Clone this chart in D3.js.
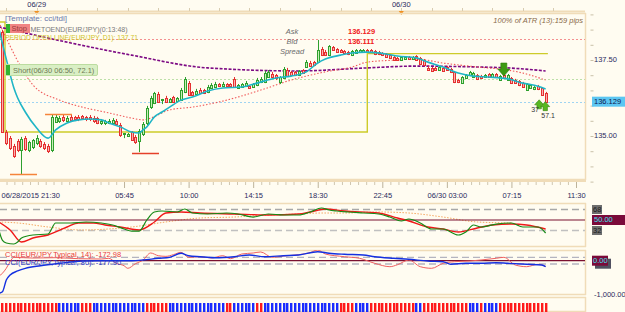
<!DOCTYPE html>
<html><head><meta charset="utf-8">
<script src="https://cdn.jsdelivr.net/npm/d3@7/dist/d3.min.js"></script>
<style>
html,body{margin:0;padding:0;background:#fffcf1;}
svg{display:block;font-family:"Liberation Sans",Arial,sans-serif;}
</style></head><body>
<svg id="chart" width="625" height="312"></svg>
<script>
// ---------------- DATA ----------------
// 15-minute EUR/JPY candles [open, high, low, close], first candle 06/28 21:45
const candleStart = "2015-06-28T21:45";
const candles = [
[138.42,138.49,135.10,135.13],[135.13,135.20,134.70,134.77],[134.93,135.00,134.54,134.61],[134.67,134.74,134.28,134.34],
[134.84,134.90,134.47,134.54],[134.54,134.97,133.75,134.90],[134.93,135.00,134.51,134.57],[134.54,134.84,134.47,134.80],
[134.64,134.90,134.57,134.87],[134.77,135.03,134.70,134.93],[134.84,134.90,134.61,134.67],[134.74,134.80,134.54,134.61],
[134.67,134.74,134.44,134.51],[134.54,135.72,134.47,135.63],[135.46,135.72,135.43,135.63],[135.49,135.66,135.43,135.59],
[135.63,135.69,135.46,135.53],[135.49,135.66,135.43,135.59],[135.63,135.69,135.46,135.53],[135.63,135.66,135.49,135.56],
[135.63,135.69,135.49,135.56],[135.66,135.69,135.53,135.59],[135.63,135.66,135.49,135.56],[135.63,135.69,135.49,135.56],
[135.59,135.66,135.43,135.49],[135.59,135.63,135.39,135.43],[135.43,135.56,135.36,135.49],[135.43,135.53,135.36,135.49],
[135.43,135.56,135.39,135.49],[135.43,135.59,135.39,135.53],[135.49,135.56,135.33,135.39],[135.36,135.43,134.97,135.03],
[135.07,135.10,134.93,135.10],[135.00,135.10,134.97,135.07],[135.13,135.16,134.84,134.87],[134.97,135.03,134.74,134.80],
[134.84,135.23,134.47,135.16],[135.07,135.46,135.00,135.39],[135.43,135.99,135.36,135.92],[135.95,136.32,135.89,136.25],
[136.09,136.45,136.05,136.41],[136.38,136.45,136.09,136.12],[136.18,136.22,136.05,136.22],[136.25,136.32,136.09,136.12],
[136.12,136.25,136.09,136.22],[136.28,136.32,136.09,136.12],[136.15,136.28,136.12,136.25],[136.18,136.58,136.15,136.51],
[136.45,136.94,136.41,136.88],[136.74,136.81,136.32,136.35],[136.45,136.48,136.32,136.35],[136.38,136.55,136.35,136.48],
[136.51,136.58,136.38,136.41],[136.51,136.55,136.38,136.41],[136.45,136.68,136.41,136.61],[136.58,136.74,136.55,136.68],
[136.61,136.78,136.58,136.71],[136.71,136.74,136.61,136.64],[136.64,136.78,136.61,136.71],[136.71,136.74,136.61,136.64],
[136.71,136.74,136.61,136.64],[136.88,136.94,136.58,136.61],[136.58,136.71,136.55,136.68],[136.61,136.74,136.58,136.71],
[136.64,136.81,136.61,136.74],[136.64,136.68,136.55,136.58],[136.61,136.74,136.58,136.71],[136.68,136.91,136.64,136.84],
[136.78,136.94,136.74,136.88],[136.78,137.14,136.74,137.07],[136.94,137.17,136.91,137.11],[137.04,137.11,136.91,136.94],
[137.01,137.04,136.84,136.91],[136.78,136.97,136.71,136.94],[136.91,137.27,136.88,137.20],[137.17,137.24,136.94,136.97],
[137.11,137.14,136.97,137.01],[137.11,137.14,136.97,137.01],[137.01,137.17,136.97,137.14],[137.17,137.20,137.04,137.07],
[137.27,137.50,137.24,137.43],[137.40,137.47,137.27,137.30],[137.43,137.47,137.30,137.34],[137.43,138.16,137.40,137.83],
[137.86,137.93,137.63,137.66],[137.76,137.83,137.63,137.66],[137.66,137.99,137.63,137.96],[137.93,137.96,137.80,137.83],
[137.86,137.89,137.73,137.76],[137.83,137.86,137.73,137.76],[137.80,137.83,137.70,137.73],[137.76,137.80,137.66,137.70],
[137.66,137.83,137.63,137.80],[137.73,137.86,137.70,137.83],[137.76,137.86,137.73,137.83],[137.76,137.86,137.73,137.83],
[137.83,137.86,137.73,137.76],[137.83,137.86,137.73,137.76],[137.80,137.83,137.66,137.70],[137.76,137.80,137.66,137.70],
[137.73,137.76,137.63,137.66],[137.70,137.73,137.57,137.60],[137.66,137.70,137.53,137.57],[137.60,137.63,137.47,137.50],
[137.57,137.60,137.47,137.50],[137.50,137.63,137.47,137.60],[137.53,137.63,137.50,137.60],[137.60,137.63,137.50,137.53],
[137.53,137.63,137.50,137.60],[137.63,137.66,137.47,137.50],[137.57,137.60,137.34,137.37],[137.50,137.53,137.30,137.34],
[137.24,137.30,137.14,137.17],[137.24,137.27,137.11,137.14],[137.24,137.27,137.14,137.17],[137.17,137.30,137.14,137.27],
[137.24,137.27,137.11,137.14],[137.27,137.30,137.14,137.17],[137.20,137.24,137.07,137.11],[137.11,137.14,136.74,136.78],
[136.84,136.88,136.74,136.78],[136.74,136.97,136.71,136.94],[136.91,137.04,136.88,137.01],[137.01,137.14,136.97,137.11],
[136.94,137.11,136.91,137.07],[137.01,137.04,136.84,136.88],[136.97,137.01,136.88,136.91],[136.94,137.04,136.91,137.01],
[137.04,137.07,136.91,136.94],[136.94,137.07,136.91,137.04],[137.04,137.07,136.91,136.94],[136.84,137.01,136.81,136.97],
[137.01,137.04,136.88,136.91],[136.84,137.04,136.81,137.01],[136.91,136.94,136.71,136.74],[136.84,136.88,136.71,136.74],
[136.81,136.84,136.64,136.68],[136.74,136.78,136.58,136.61],[136.51,136.74,136.48,136.71],[136.58,136.71,136.55,136.68],
[136.55,136.64,136.51,136.61],[136.64,136.68,136.51,136.55],[136.58,136.61,136.32,136.35],[136.41,136.45,136.10,136.129]
];
// moving averages: [candle index, price]
const fastMA = [[-1,138.55],[0,138.03],[1,137.53],[3,136.58],[4,136.25],[6,135.79],[9,135.26],[12,134.93],[14,135.20],[17,135.43],[20,135.53],[23,135.56],[26,135.53],[28,135.43],[31,135.30],[34,135.13],[36,135.10],[37,135.20],[38,135.30],[40,135.63],[42,135.79],[44,135.95],[47,136.18],[50,136.28],[54,136.48],[58,136.58],[63,136.61],[67,136.74],[72,136.91],[76,136.97],[80,137.11],[83,137.40],[85,137.53],[89,137.66],[92,137.73],[96,137.76],[101,137.70],[104,137.63],[109,137.57],[112,137.43],[116,137.27],[120,137.07],[124,136.97],[128,136.94],[133,136.88],[137,136.74],[141,136.64],[143,136.55]];
const slowMA = [[-1,138.75],[1,138.22],[2,137.96],[5,137.24],[8,136.68],[15,136.18],[21,135.95],[28,135.76],[34,135.59],[37,135.53],[39,135.59],[44,135.86],[50,135.95],[59,136.18],[68,136.51],[76,136.84],[85,137.11],[92,137.27],[96,137.43],[104,137.50],[109,137.53],[116,137.40],[125,137.27],[133,137.17],[137,137.07],[143,136.84]];
const trendMA = [[-1,138.59],[18,138.06],[34,137.66],[54,137.24],[78,137.14],[96,137.24],[109,137.30],[125,137.27],[133,137.24],[143,137.14]];
// period (D1) open line: [from index, to index, price]
const periodOpen = [[-1,0.66,138.75],[0.66,96.05,135.13],[96.05,143.6,137.71]];
// horizontal levels
const levels = [138.19, 136.88, 136.129];
// fractal lines [from index, to index, price]
const fractals = [[1.97,9.08,133.75],[11.2,18.3,135.72],[34.1,41.2,134.44]];
// signals
const shortSignal = [132, 137.40];
const longSignals = [[141.3,136.19,"37"],[142.9,136.13,"57.1"]];
// price axis
const priceLabels = [137.5, 135.0];
const lastPrice = 136.129, askPrice = "136.129", bidPrice = "136.111";
// time axis
const tickTimes = ["2015-06-28T21:30","2015-06-29T05:45","2015-06-29T10:00","2015-06-29T14:15","2015-06-29T18:30","2015-06-29T22:45","2015-06-30T03:00","2015-06-30T07:15","2015-06-30T11:30"];
const tickLabels = ["06/28/2015 21:30","05:45","10:00","14:15","18:30","22:45","06/30 03:00","07:15","11:30"];
const dayMarks = [["2015-06-29T00:00","06/29"],["2015-06-30T00:00","06/30"]];
// TDI: [candle index, value]
const tdiRsi = [[-1,34],[0,15],[1,10.6],[3,8.9],[4,12.3],[5,19.1],[8,24.3],[12,26],[14,44.9],[18,44.9],[22,46.6],[26,44.9],[29,41.4],[32,34.6],[34,31.1],[36,31.1],[38,50],[40,63.7],[42,65.4],[46,63.7],[48,68.9],[50,62],[54,60.3],[59,62],[62,60.3],[66,55.1],[70,60.3],[74,58.6],[78,58.6],[81,63.7],[84,70.6],[86,67.1],[88,65.4],[91,63.7],[95,62],[99,60.3],[102,55.1],[105,48.3],[107,51.7],[110,44.9],[113,34.6],[116,34.6],[120,24.3],[122,29.4],[124,41.4],[126,38],[130,43],[134,44.9],[137,38],[141,38],[143,27.7]];
const tdiSignal = [[-1,46.6],[2,32.9],[5,12.3],[8,19.1],[12,24.3],[17,38],[20,44.9],[24,44.9],[27,41.4],[31,38],[36,32.9],[40,46.6],[43,62],[47,63.7],[52,62],[61,60.3],[70,58.6],[78,60.3],[81,63.7],[85,68.9],[90,65.4],[99,62],[104,53.4],[107,48.3],[112,38],[116,34.6],[120,29.4],[125,36.3],[129,41.4],[134,43.1],[138,41.4],[143,34.6]];
const tdiBase = [[-1,46.6],[4,44.9],[12,38],[21,32.9],[28,34.6],[34,38],[43,46.6],[52,53.4],[61,55.1],[70,58.6],[78,60.3],[84,62],[90,62],[99,63.7],[107,62],[116,55.1],[125,46.6],[134,44.9]];
const tdiLevels = [68, 50, 32];
// CCI: [candle index, value]
const cci14 = [[-1,-480],[1,-227],[2,-30],[3,100],[8,80],[14,90],[20,60],[26,50],[28,72],[30,-78],[32,-150],[33,-227],[35,-90],[37,20],[39,230],[41,150],[43,130],[45,180],[47,250],[49,100],[52,120],[55,80],[58,150],[60,60],[63,200],[66,230],[68,260],[71,100],[74,140],[78,180],[81,240],[83,320],[85,200],[90,120],[94,72],[98,-78],[102,-179],[104,-120],[107,21],[110,-179],[113,-227],[116,-78],[119,-30],[123,-9],[126,21],[130,72],[132,101],[135,-128],[138,-179],[141,-107],[143,-173]];
const cci80 = [[-1,-973],[0,-925],[1,-576],[2,-427],[4,-307],[6,-227],[10,-149],[15,-78],[21,-9],[26,0],[34,0],[37,21],[41,72],[44,101],[47,221],[49,149],[52,119],[56,90],[61,119],[65,170],[69,119],[74,149],[78,170],[83,269],[86,221],[90,191],[95,170],[98,119],[103,72],[107,42],[112,-9],[116,-30],[118,-107],[122,-78],[126,-78],[130,-60],[133,-78],[138,-107],[142,-128],[143,-178]];
const cciLabels = ["CCI(EUR/JPY,Typical, 14): -172.98", "CCI(EUR/JPY,Typical, 80): -177.90"];
// bottom strip: sign per candle (r = down, b = up)
const stripSigns = ("rrrrrrrrrrrrrrr"+"bbbbbb"+"rrr"+"bbbbbbbbbbbbbb"+"rrrrrr"+"bbbbbbbbbbbbbbb"+"rr"+"bbbbbb"+"rr"+"bbbbbbbbbbbbbbbbbbbb"+"rrrr"+"bbbb"+"rrrrrrrrrrrr"+"bb"+"rrrrrrrrrrrr"+"bbb"+"r"+"bbbb"+"rrrrrrrrrrrrr").split("");

// ---------------- LAYOUT ----------------
const W = 625, H = 312;
const plotR = 585;
const P = {main:[13,180], tdi:[203,247], cci:[250,295], strip:[297,312]};
const C = {bg:"#fffcf1", border:"#f0dcb8", axisText:"#2b2b5e", up:"#2ea02e", upFill:"#c9efb8", dn:"#e53030", dnFill:"#f9b0b0"};

const svg = d3.select("#chart");
svg.append("rect").attr("width",W).attr("height",H).attr("fill",C.bg);

const x = d3.scaleTime().domain([new Date(tickTimes[0]), new Date(tickTimes[tickTimes.length-1])]).range([-1.3, 576]);
const t0 = new Date(candleStart);
const xi = i => x(new Date(+t0 + i*15*60000));
const y = d3.scaleLinear().domain([135, 137.5]).range([136, 60]);
const yT = d3.scaleLinear().domain([32, 68]).range([230.5, 209.5]);
const yC = d3.scaleLinear().domain([-1000, 0]).range([294.2, 260.7]);

const defs = svg.append("defs");
Object.entries(P).forEach(([k,[a,b]])=>{
  defs.append("clipPath").attr("id","clip-"+k).append("rect").attr("x",0).attr("y",a).attr("width",plotR).attr("height",b-a);
});

// ---- top date bar
svg.append("line").attr("x1",0).attr("x2",plotR).attr("y1",11.5).attr("y2",11.5).attr("stroke",C.border).attr("stroke-width",2);
const topTicks = d3.timeHour.every(2).range(new Date(tickTimes[0]), new Date(tickTimes[tickTimes.length-1]));
svg.append("g").selectAll("line").data(topTicks).join("line")
  .attr("x1",d=>Math.round(x(d))+0.5).attr("x2",d=>Math.round(x(d))+0.5).attr("y1",8).attr("y2",11)
  .attr("stroke","#d8ccb0");
dayMarks.forEach(([t,lab])=>{
  const px = x(new Date(t));
  svg.append("text").attr("x",px).attr("y",5).attr("text-anchor","middle").attr("dominant-baseline","middle")
    .attr("font-size",7.5).attr("fill",C.axisText).text(lab);
  svg.append("path").attr("d",`M${px-2.5},11 L${px+2.5},11 L${px},15 Z`).attr("fill","#f09020");
});

// ---- panel borders
Object.values(P).forEach(([a,b])=>{
  svg.append("line").attr("x1",plotR+0.5).attr("x2",plotR+0.5).attr("y1",a).attr("y2",b).attr("stroke",C.border).attr("stroke-width",1.5);
  svg.append("line").attr("x1",0).attr("x2",plotR+1).attr("y1",a+0.5).attr("y2",a+0.5).attr("stroke",C.border).attr("stroke-width",1.5);
  svg.append("line").attr("x1",0).attr("x2",plotR+1).attr("y1",b-0.5).attr("y2",b-0.5).attr("stroke",C.border).attr("stroke-width",1.5);
});

// ---- MAIN PANEL
const main = svg.append("g").attr("clip-path","url(#clip-main)");
const levelStyles = [["#f49090","2,2"],["#bde0a8","2,2"],["#9fd4f2","2,2"]];
levels.forEach((p,k)=>{
  main.append("line").attr("x1",0).attr("x2",plotR).attr("y1",Math.round(y(p))+0.5).attr("y2",Math.round(y(p))+0.5)
    .attr("stroke",levelStyles[k][0]).attr("stroke-dasharray",levelStyles[k][1]).attr("stroke-width",1);
});
// period open step
const poPts = [];
periodOpen.forEach(([a,b,p])=>{ poPts.push([a,p]); poPts.push([b,p]); });
main.append("path").attr("d",d3.line().x(d=>xi(d[0])).y(d=>y(d[1]))(poPts))
  .attr("fill","none").attr("stroke","#cdcb2a").attr("stroke-width",1.4);

const mline = d3.line().x(d=>xi(d[0])).y(d=>y(d[1])).curve(d3.curveMonotoneX);
main.append("path").attr("d",mline(trendMA)).attr("fill","none").attr("stroke","#7d0a84").attr("stroke-width",1.6).attr("stroke-dasharray","3,1.5");
main.append("path").attr("d",mline(slowMA)).attr("fill","none").attr("stroke","#f05a5a").attr("stroke-width",1.1).attr("stroke-dasharray","1.5,1.8");

// candles
const cg = main.append("g");
const cs = cg.selectAll("g").data(candles).join("g");
cs.append("line")
  .attr("x1",(d,i)=>Math.round(xi(i))+0.5).attr("x2",(d,i)=>Math.round(xi(i))+0.5)
  .attr("y1",d=>y(d[1])).attr("y2",d=>y(d[2]))
  .attr("stroke",d=>d[3]>=d[0]?C.up:C.dn).attr("stroke-width",1);
cs.append("rect")
  .attr("x",(d,i)=>Math.round(xi(i))-0.5).attr("width",2)
  .attr("y",d=>Math.round(y(Math.max(d[0],d[3])))+0.5)
  .attr("height",d=>Math.max(1,Math.round(Math.abs(y(d[0])-y(d[3])))))
  .attr("fill",d=>d[3]>=d[0]?C.upFill:C.dnFill)
  .attr("stroke",d=>d[3]>=d[0]?C.up:C.dn).attr("stroke-width",1);

main.append("path").attr("d",mline(fastMA)).attr("fill","none").attr("stroke","#1fb5c6").attr("stroke-width",1.6);

// fractals
const fracColors = ["#f5843a","#f5843a","#e5402a"];
fractals.forEach(([a,b,p],k)=>{
  main.append("line").attr("x1",xi(a)).attr("x2",xi(b)).attr("y1",Math.round(y(p))+0.5).attr("y2",Math.round(y(p))+0.5)
    .attr("stroke",fracColors[k]).attr("stroke-width",1.5);
});

// signals
{
  const sx = xi(shortSignal[0]), sy = y(shortSignal[1]);
  main.append("path").attr("d",`M${sx-3},${sy} h6 v6 h3 l-6,7 l-6,-7 h3 Z`).attr("fill","#3d9a12").attr("stroke","#2a7a08").attr("stroke-width",0.6);
  longSignals.forEach(([i,p,lab],k)=>{
    const lx = xi(i), ly = y(p);
    main.append("path").attr("d",`M${lx},${ly} l4.5,5 h-2.3 v4 h-4.4 v-4 h-2.3 Z`).attr("fill","#58b822").attr("stroke","#3a8a10").attr("stroke-width",0.6);
  });
  const baseY = y(longSignals[0][1]);
  main.append("text").attr("x",xi(longSignals[0][0])-8).attr("y",baseY+10).attr("font-size",7).attr("fill","#333").attr("dominant-baseline","middle").text(longSignals[0][2]);
  main.append("text").attr("x",xi(longSignals[1][0])-4).attr("y",baseY+16.5).attr("font-size",7).attr("fill","#333").attr("dominant-baseline","middle").text(longSignals[1][2]);
}

// text overlays (main)
const tg = svg.append("g").attr("font-size",7.5);
tg.append("text").attr("x",5).attr("y",21).attr("fill","#6a78aa").attr("textLength",62).attr("lengthAdjust","spacingAndGlyphs").text("[Template: cci/tdi]");
tg.append("text").attr("x",30.5).attr("y",31.5).attr("fill","#7a7a7a").attr("textLength",97).attr("lengthAdjust","spacingAndGlyphs").text("METOEND(EUR/JPY)(0:13:48)");
tg.append("text").attr("x",5).attr("y",39.5).attr("fill","#cfc52a").attr("textLength",133).attr("lengthAdjust","spacingAndGlyphs").text("PERIOD OPEN LINE(EUR/JPY,,D1): "+periodOpen[2][2].toFixed(2));
tg.append("rect").attr("x",6).attr("y",24).attr("width",4).attr("height",9).attr("fill","#2fb22f");
tg.append("rect").attr("x",10).attr("y",24).attr("width",20).attr("height",9).attr("fill","#f07a7a").attr("opacity",0.92);
tg.append("text").attr("x",11.5).attr("y",31).attr("fill","#9a3a3a").text("Stop");
// short box
tg.append("rect").attr("x",5.5).attr("y",64.5).attr("width",92).attr("height",11).attr("rx",1.5).attr("fill","#d9efc4").attr("stroke","#bcdca0");
tg.append("rect").attr("x",6).attr("y",65).attr("width",4).attr("height",10).attr("fill","#2fb22f");
tg.append("text").attr("x",13).attr("y",72.8).attr("fill","#6f7a55").text("Short(06/30 06:50, 72.1)");
// ask / bid / spread
tg.append("text").attr("x",292).attr("y",33.5).attr("text-anchor","middle").attr("font-style","italic").attr("fill","#6b6b6b").text("Ask");
tg.append("text").attr("x",292).attr("y",43.5).attr("text-anchor","middle").attr("font-style","italic").attr("fill","#6b6b6b").text("Bid");
tg.append("text").attr("x",292).attr("y",53.5).attr("text-anchor","middle").attr("font-style","italic").attr("fill","#6b6b6b").text("Spread");
tg.append("text").attr("x",348).attr("y",33.5).attr("font-weight","bold").attr("fill","#f02020").text(askPrice);
tg.append("text").attr("x",348).attr("y",43.5).attr("font-weight","bold").attr("fill","#f02020").text(bidPrice);
tg.append("text").attr("x",583).attr("y",22.5).attr("text-anchor","end").attr("font-style","italic").attr("fill","#8a6a48").text("100% of ATR (13):159 pips");

// price axis
const pax = svg.append("g").attr("transform","translate(590.5,0)")
  .call(d3.axisRight(y).tickValues(d3.range(133.5,139.01,0.5)).tickSize(3).tickFormat(""));
pax.select(".domain").remove();
pax.selectAll("line").attr("stroke","#c9c0a8");
priceLabels.forEach(p=>{
  svg.append("text").attr("x",594).attr("y",y(p)).attr("dominant-baseline","middle").attr("font-size",7.5).attr("fill",C.axisText).text(p.toFixed(2));
});
svg.append("rect").attr("x",592).attr("y",y(lastPrice)-5).attr("width",33).attr("height",10).attr("fill","#5cc6f2");
svg.append("text").attr("x",594).attr("y",y(lastPrice)+0.5).attr("dominant-baseline","middle").attr("font-size",7.5).attr("fill","#101850").text(lastPrice.toFixed(3));

// time axis
const tickDates = tickTimes.map(s=>new Date(s));
const minor = [];
for (let k=0;k<tickDates.length-1;k++){ const a=+tickDates[k], b=+tickDates[k+1]; const n = k===0?16:8; for(let j=1;j<n;j++) minor.push(new Date(a+(b-a)*j/n)); }
const xmin = svg.append("g").attr("transform","translate(0,180)").call(d3.axisBottom(x).tickValues(minor).tickSize(5).tickFormat(""));
xmin.select(".domain").remove(); xmin.selectAll("line").attr("stroke","#cfc6b0");
const xax = svg.append("g").attr("transform","translate(0,180)").call(d3.axisBottom(x).tickValues(tickDates).tickSize(8).tickFormat((d,i)=>tickLabels[i]));
xax.select(".domain").remove();
xax.selectAll("line").attr("stroke","#bdb39a");
xax.selectAll("text").attr("font-size",7.5).attr("fill",C.axisText).attr("font-family","Liberation Sans, Arial, sans-serif").attr("dy",0).attr("y",18);
xax.selectAll(".tick").filter((d,i)=>i===0).select("text").attr("text-anchor","start").attr("x",2.3);
svg.append("line").attr("x1",0).attr("x2",plotR+1).attr("y1",181).attr("y2",181).attr("stroke",C.border).attr("stroke-width",2);

// ---- TDI PANEL
const tdi = svg.append("g").attr("clip-path","url(#clip-tdi)");
const tl = d3.line().x(d=>xi(d[0])).y(d=>yT(d[1])).curve(d3.curveMonotoneX);
tdi.append("line").attr("x1",0).attr("x2",plotR).attr("y1",yT(68)).attr("y2",yT(68)).attr("stroke","#a8a8a8").attr("stroke-width",1.4).attr("stroke-dasharray","7,4");
tdi.append("line").attr("x1",0).attr("x2",plotR).attr("y1",yT(32)).attr("y2",yT(32)).attr("stroke","#c0c0c0").attr("stroke-width",1.4).attr("stroke-dasharray","7,4");
tdi.append("path").attr("d",tl(tdiBase)).attr("fill","none").attr("stroke","#f5a860").attr("stroke-width",1).attr("stroke-dasharray","1.5,1.5");
tdi.append("line").attr("x1",0).attr("x2",plotR).attr("y1",yT(50)).attr("y2",yT(50)).attr("stroke","#7a1030").attr("stroke-width",1.2);
tdi.append("path").attr("d",tl(tdiSignal)).attr("fill","none").attr("stroke","#f01818").attr("stroke-width",1.4);
tdi.append("path").attr("d",tl(tdiRsi)).attr("fill","none").attr("stroke","#168a16").attr("stroke-width",1.2);
// tdi labels
[[68,"68"],[32,"32"]].forEach(([v,lab])=>{
  svg.append("rect").attr("x",592).attr("y",yT(v)-4.5).attr("width",10).attr("height",9).attr("fill","#6e6e6e");
  svg.append("text").attr("x",593).attr("y",yT(v)+0.5).attr("dominant-baseline","middle").attr("font-size",7.5).attr("fill","#1a1a1a").text(lab);
});
svg.append("rect").attr("x",592).attr("y",yT(50)-5).attr("width",33).attr("height",10).attr("fill","#7a0a3a");
svg.append("text").attr("x",594).attr("y",yT(50)+0.5).attr("dominant-baseline","middle").attr("font-size",7.5).attr("fill","#3fe0f0").text("50.00");

// ---- CCI PANEL
const cci = svg.append("g").attr("clip-path","url(#clip-cci)");
const cl = d3.line().x(d=>xi(d[0])).y(d=>yC(d[1])).curve(d3.curveMonotoneX);
[100,-100].forEach(v=>cci.append("line").attr("x1",0).attr("x2",plotR).attr("y1",yC(v)).attr("y2",yC(v)).attr("stroke","#b4b4c0").attr("stroke-width",1.4).attr("stroke-dasharray","7,4"));
cci.append("line").attr("x1",0).attr("x2",plotR).attr("y1",yC(0)).attr("y2",yC(0)).attr("stroke","#7a1030").attr("stroke-width",1.2);
cci.append("path").attr("d",cl(cci14)).attr("fill","none").attr("stroke","#f06060").attr("stroke-width",1);
cci.append("path").attr("d",cl(cci80)).attr("fill","none").attr("stroke","#1430e0").attr("stroke-width",1.4);
cci.append("text").attr("x",5).attr("y",256.5).attr("font-size",7.5).attr("fill","#e83a3a").text(cciLabels[0]);
cci.append("text").attr("x",5).attr("y",264.5).attr("font-size",7.5).attr("fill","#2a3ac8").text(cciLabels[1]);
svg.append("rect").attr("x",595).attr("y",yC(0)-2).attr("width",16).attr("height",10).attr("fill","#505060");
svg.append("rect").attr("x",592).attr("y",yC(0)-5).attr("width",16).attr("height",10).attr("fill","#7a0a3a");
svg.append("text").attr("x",593).attr("y",yC(0)+0.5).attr("dominant-baseline","middle").attr("font-size",7.5).attr("fill","#3fe0f0").text("0.00");
svg.append("text").attr("x",594).attr("y",yC(-1000)+1).attr("dominant-baseline","middle").attr("font-size",7.5).attr("fill",C.axisText).text("-1,000.00");

// ---- STRIP PANEL
const strip = svg.append("g").attr("clip-path","url(#clip-strip)");
strip.selectAll("rect").data(stripSigns).join("rect")
  .attr("x",(d,i)=>Math.round(xi(i))-1).attr("width",2.4)
  .attr("y",303).attr("height",9)
  .attr("fill",d=>d==="r"?"#ff1a1a":"#1a2cff");
</script></body></html>
